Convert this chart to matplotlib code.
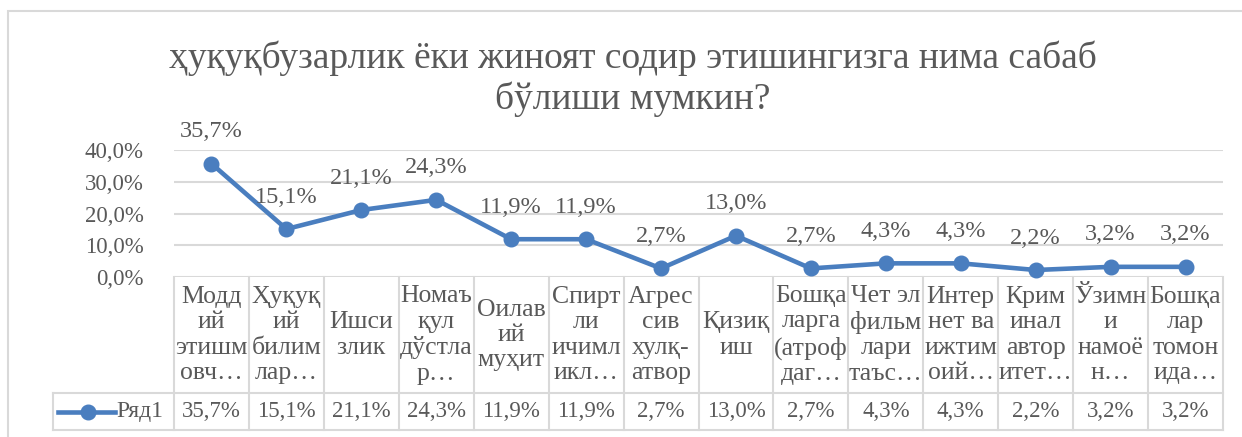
import matplotlib
matplotlib.use("Agg")
import matplotlib.pyplot as plt
from matplotlib.transforms import blended_transform_factory
from matplotlib.lines import Line2D
from matplotlib.patches import Rectangle

plt.rcParams['font.family'] = ['Liberation Serif', 'DejaVu Serif']

title = "ҳуқуқбузарлик ёки жиноят содир этишингизга нима сабаб\nбўлиши мумкин?"
categories = [
    "Модд\nий\nэтишм\nовч…",
    "Ҳуқуқ\nий\nбилим\nлар…",
    "Ишси\nзлик",
    "Номаъ\nқул\nдўстла\nр…",
    "Оилав\nий\nмуҳит",
    "Спирт\nли\nичимл\nикл…",
    "Агрес\nсив\nхулқ-\nатвор",
    "Қизиқ\nиш",
    "Бошқа\nларга\n(атроф\nдаг…",
    "Чет эл\nфильм\nлари\nтаъс…",
    "Интер\nнет ва\nижтим\nоий…",
    "Крим\nинал\nавтор\nитет…",
    "Ўзимн\nи\nнамоё\nн…",
    "Бошқа\nлар\nтомон\nида…",
]
values = [35.7, 15.1, 21.1, 24.3, 11.9, 11.9, 2.7, 13.0, 2.7, 4.3, 4.3, 2.2, 3.2, 3.2]
series_name = "Ряд1"
yticks = [0, 10, 20, 30, 40]

W, H = 1242, 437
fig = plt.figure(figsize=(W / 100, H / 100), dpi=100)
TXT = '#595959'
GRID = '#d9d9d9'
BLUE = '#4a7ebf'

# chart border
fig.add_artist(Rectangle((8 / W, -0.1), 1.2, 1 - 11 / H + 0.1, transform=fig.transFigure,
                         fill=False, edgecolor=GRID, lw=1.5))

x0, x1 = 174, 1223
ytop, ybot = 150, 277
ax = fig.add_axes([x0 / W, 1 - ybot / H, (x1 - x0) / W, (ybot - ytop) / H])
n = len(values)
xs = list(range(n))
ax.set_xlim(-0.5, n - 0.5)
ax.set_ylim(0, 40)
for s in ax.spines.values():
    s.set_visible(False)
ax.set_xticks([])
ax.set_yticks(yticks)
ax.set_yticklabels([f"{v:.1f}%".replace('.', ',') for v in yticks], fontsize=16.5, color=TXT)
ax.tick_params(axis='y', length=0, pad=22)
for v in yticks:
    ax.axhline(v, color=GRID, lw=1.5, zorder=1)

ax.plot(xs, values, color=BLUE, lw=3.3, marker='o', markersize=10.5, zorder=3, clip_on=False)
for x, v in zip(xs, values):
    ax.annotate(f"{v:.1f}%".replace('.', ','), (x, v), xytext=(0, 23), textcoords='offset points',
                ha='center', va='center', fontsize=17.5, color=TXT, annotation_clip=False)

# data table
axh = ybot - ytop
ycat = (ybot - 393) / axh
ydat = (ybot - 430) / axh
tr = blended_transform_factory(ax.transData, ax.transAxes)
trf = blended_transform_factory(fig.transFigure, ax.transAxes)
for i in range(n + 1):
    ax.add_line(Line2D([i - 0.5, i - 0.5], [0, ydat], transform=tr, color=GRID, lw=1.5, clip_on=False))
for yy in (ycat, ydat):
    ax.add_line(Line2D([53 / W, x1 / W], [yy, yy], transform=trf, color=GRID, lw=1.5, clip_on=False))
ax.add_line(Line2D([53 / W, 53 / W], [ycat, ydat], transform=trf, color=GRID, lw=1.5, clip_on=False))

for x, c, v in zip(xs, categories, values):
    ax.text(x, ycat / 2, c, transform=tr, ha='center', va='center', fontsize=18.5,
            color=TXT, linespacing=1.2, clip_on=False)
    ax.text(x, (ycat + ydat) / 2, f"{v:.1f}%".replace('.', ','), transform=tr, ha='center',
            va='center', fontsize=16.5, color=TXT, clip_on=False)

ymid = (ycat + ydat) / 2
ax.add_line(Line2D([58 / W, 115 / W], [ymid, ymid], transform=trf, color=BLUE, lw=3.3, clip_on=False))
ax.add_line(Line2D([88 / W], [ymid], transform=trf, color=BLUE, marker='o', markersize=10.5, clip_on=False))
ax.text(116 / W, ymid, series_name, transform=trf, ha='left', va='center', fontsize=17, color=TXT)

fig.text(633 / W, 1 - 79 / H, title, ha='center', va='center', fontsize=27, color=TXT, linespacing=1.2)

fig.savefig("out.png", dpi=100)
